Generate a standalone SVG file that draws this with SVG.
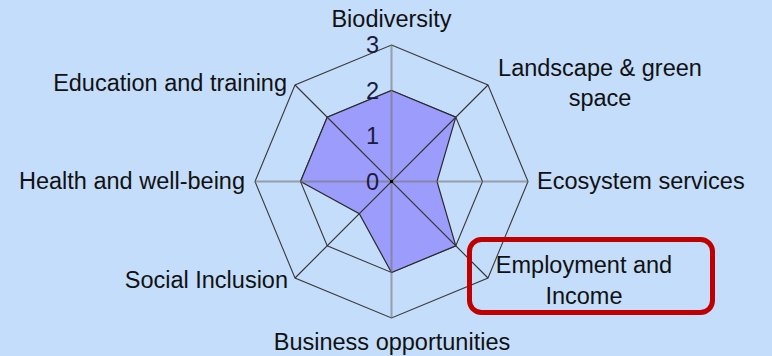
<svg xmlns="http://www.w3.org/2000/svg" width="772" height="356" viewBox="0 0 772 356">
  <style>
    .lbl { font-family: "Liberation Sans", Arial, sans-serif; font-size: 23.5px; fill: #111; }
    .num { font-family: "Liberation Sans", Arial, sans-serif; font-size: 23.5px; fill: #1a1a40; text-anchor: end; }
    .ring { fill: none; stroke: #3a3a3a; stroke-width: 1.1; }
    .diag { stroke: #333; stroke-width: 1.1; }
    .axis { stroke: #777; stroke-opacity: 0.6; stroke-width: 2; }
  </style>
  <rect x="0" y="0" width="772" height="356" fill="#C4DDFB"/>

  <g id="grid">
    <polygon class="ring" points="391.5,45 488,85 528,181.5 488,278 391.5,318 295,278 255,181.5 295,85"/>
    <polygon class="ring" points="391.5,90.5 455.8,117.2 482.5,181.5 455.8,245.8 391.5,272.5 327.2,245.8 300.5,181.5 327.2,117.2"/>
  </g>

  <g id="series">
    <polygon points="391.5,90.5 455.8,117.2 437,181.5 455.8,245.8 391.5,272.5 359.3,213.7 300.5,181.5 327.2,117.2" fill="#9C9CFC" stroke="#2a2a2a" stroke-width="1.2" stroke-linejoin="miter"/>
  </g>

  <g id="spokes">
    <line class="axis" x1="391.5" y1="45" x2="391.5" y2="318"/>
    <line class="axis" x1="255" y1="181.5" x2="528" y2="181.5"/>
    <line class="diag" x1="295" y1="85" x2="488" y2="278"/>
    <line class="diag" x1="488" y1="85" x2="295" y2="278"/>
    <rect x="390" y="180" width="3" height="3" fill="#000"/>
  </g>

  <g id="scale">
    <text class="num" x="379" y="53">3</text>
    <text class="num" x="379" y="99">2</text>
    <text class="num" x="379" y="144">1</text>
    <text class="num" x="379" y="190">0</text>
  </g>

  <g id="axis-biodiversity"><text class="lbl" x="391.5" y="27" text-anchor="middle">Biodiversity</text></g>
  <g id="axis-landscape">
    <text class="lbl" x="600" y="76" text-anchor="middle">Landscape &amp; green</text>
    <text class="lbl" x="600" y="106" text-anchor="middle">space</text>
  </g>
  <g id="axis-ecosystem"><text class="lbl" x="537" y="189">Ecosystem services</text></g>
  <g id="axis-employment">
    <text class="lbl" x="584" y="273" text-anchor="middle">Employment and</text>
    <text class="lbl" x="584" y="304" text-anchor="middle">Income</text>
  </g>
  <g id="axis-business"><text class="lbl" x="392" y="350" text-anchor="middle">Business opportunities</text></g>
  <g id="axis-social"><text class="lbl" x="288" y="288" text-anchor="end">Social Inclusion</text></g>
  <g id="axis-health"><text class="lbl" x="245" y="189" text-anchor="end">Health and well-being</text></g>
  <g id="axis-education"><text class="lbl" x="287" y="91" text-anchor="end">Education and training</text></g>

  <g id="highlight">
    <rect x="469.5" y="239.5" width="243" height="73" rx="12" ry="12" fill="none" stroke="#C00000" stroke-width="5"/>
  </g>
</svg>
